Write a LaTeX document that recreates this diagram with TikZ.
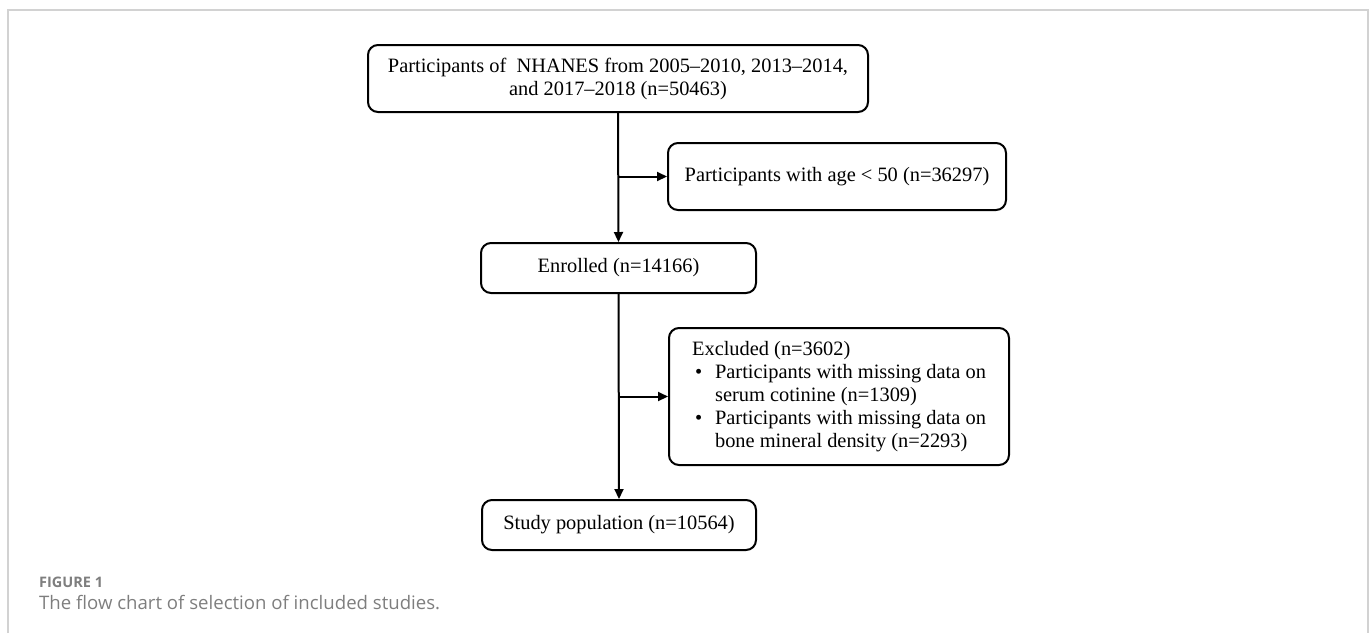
\documentclass[tikz,border=0pt]{standalone}
\usepackage{fontspec}
\setmainfont{Liberation Serif}
\newfontfamily\capfont{Open Sans}
\usetikzlibrary{arrows.meta}
\definecolor{framegray}{HTML}{D2D2D2}
\definecolor{capgray}{HTML}{7E7E7E}
\begin{document}
\begin{tikzpicture}[x=1pt,y=-1pt,
  box/.style={draw, line width=2pt, rounded corners=10pt, inner sep=0pt, font=\fontsize{20.4}{23}\selectfont},
  arr/.style={line width=2pt, -{Triangle[length=10pt,width=9pt]}}]
\useasboundingbox (0,0) rectangle (1372,633);
\draw[framegray, line width=1.5pt] (8,633) -- (8,10) -- (1368,10) -- (1368,633);
\node[box, minimum width=500pt, minimum height=67pt, align=center] (a) at (618,78.5)
  {Participants of\ \ NHANES from 2005--2010, 2013--2014,\\and 2017--2018 (n=50463)};
\node[box, minimum width=338pt, minimum height=67pt] (b) at (837,176.5)
  {Participants with age < 50 (n=36297)};
\node[box, minimum width=275pt, minimum height=50pt] (c) at (618.5,268) {Enrolled (n=14166)};
\node[box, minimum width=340pt, minimum height=137pt, align=left] (d) at (839,396.5)
  {Excluded (n=3602)\\
   \makebox[23pt][l]{\hspace{3pt}\textbullet}Participants with missing data on\\
   \hspace*{23pt}serum cotinine (n=1309)\\
   \makebox[23pt][l]{\hspace{3pt}\textbullet}Participants with missing data on\\
   \hspace*{23pt}bone mineral density (n=2293)};
\node[box, minimum width=274pt, minimum height=50pt] (e) at (619,525) {Study population (n=10564)};
\coordinate (j1) at (a.south |- b.west);
\coordinate (j2) at (c.south |- d.west);
\draw[arr] (a.south) -- (c.north);
\draw[arr] (j1) -- (b.west);
\draw[arr] (c.south) -- (e.north);
\draw[arr] (j2) -- (d.west);
\node[anchor=base west, inner sep=0pt, text=capgray, font=\capfont\fontsize{14.5}{17}\selectfont\bfseries] (f) at (39,587) {FIGURE 1};
\node[anchor=base west, inner sep=0pt, text=capgray, font=\capfont\fontsize{18.6}{21}\selectfont] (g) at (39,609) {The flow chart of selection of included studies.};
\end{tikzpicture}
\end{document}
